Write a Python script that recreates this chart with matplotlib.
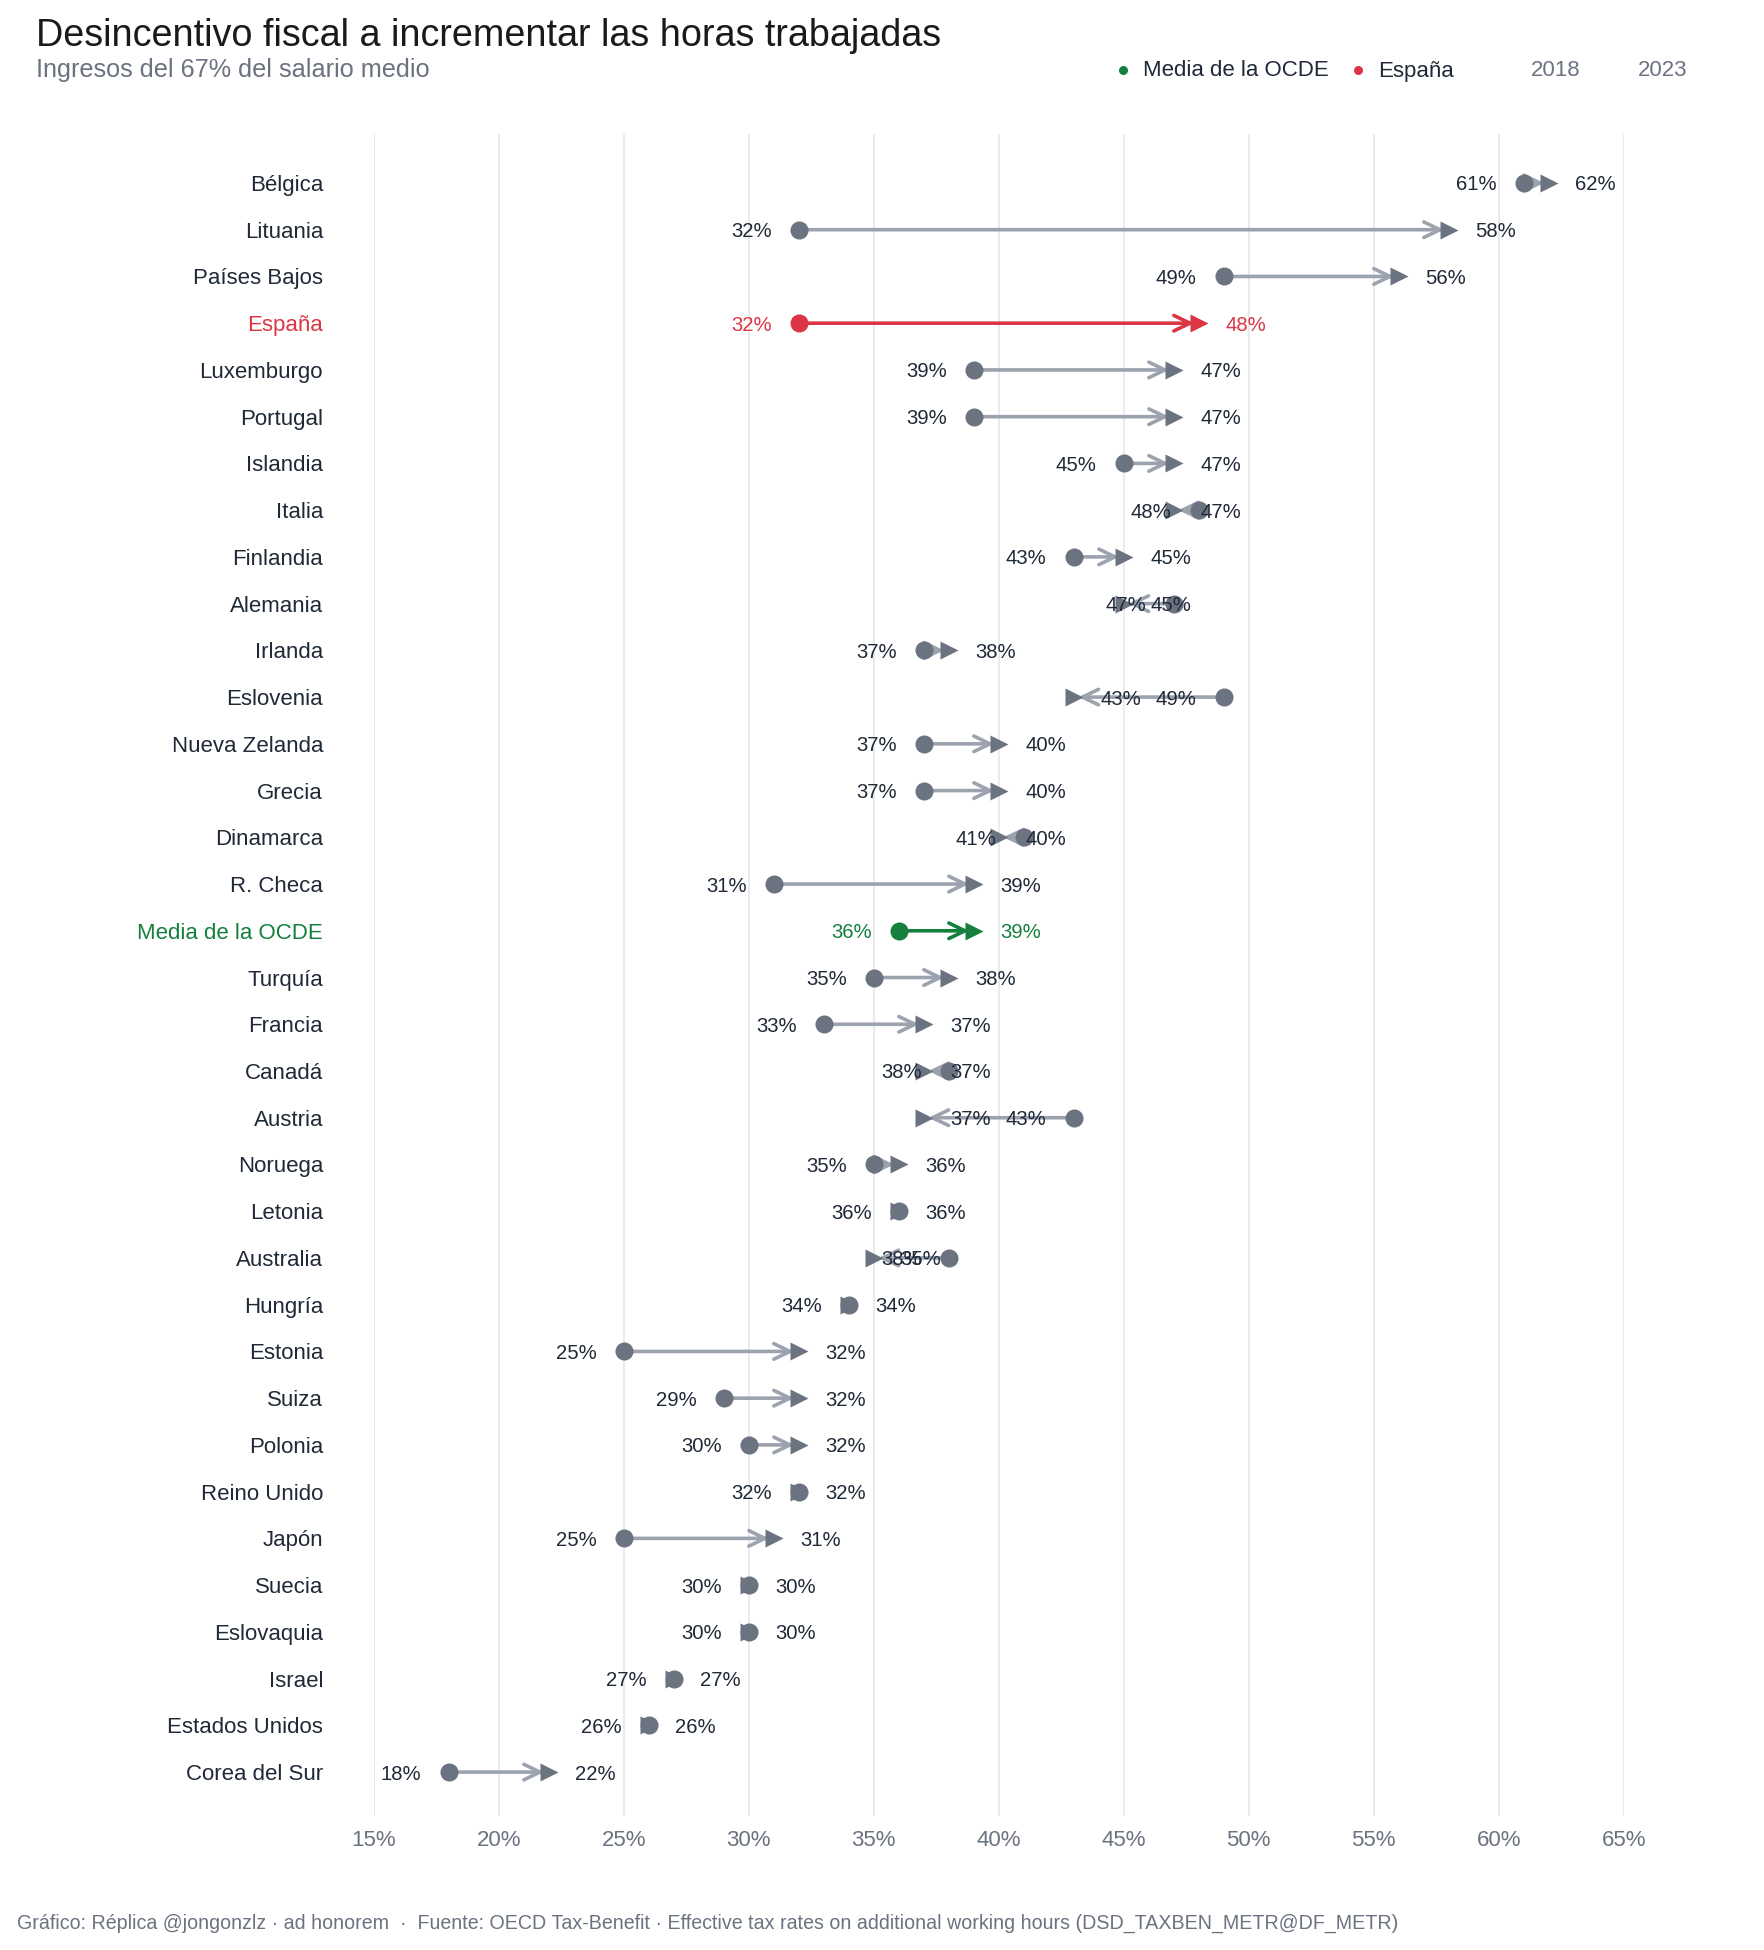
import matplotlib
matplotlib.use("Agg")
import matplotlib.pyplot as plt
from matplotlib.lines import Line2D

# ---------------- data ----------------
countries = [
    "Bélgica", "Lituania", "Países Bajos", "España", "Luxemburgo", "Portugal",
    "Islandia", "Italia", "Finlandia", "Alemania", "Irlanda", "Eslovenia",
    "Nueva Zelanda", "Grecia", "Dinamarca", "R. Checa", "Media de la OCDE",
    "Turquía", "Francia", "Canadá", "Austria", "Noruega", "Letonia",
    "Australia", "Hungría", "Estonia", "Suiza", "Polonia", "Reino Unido",
    "Japón", "Suecia", "Eslovaquia", "Israel", "Estados Unidos", "Corea del Sur",
]
v2018 = [61, 32, 49, 32, 39, 39, 45, 48, 43, 47, 37, 49, 37, 37, 41, 31, 36,
         35, 33, 38, 43, 35, 36, 38, 34, 25, 29, 30, 32, 25, 30, 30, 27, 26, 18]
v2023 = [62, 58, 56, 48, 47, 47, 47, 47, 45, 45, 38, 43, 40, 40, 40, 39, 39,
         38, 37, 37, 37, 36, 36, 35, 34, 32, 32, 32, 32, 31, 30, 30, 27, 26, 22]
xticks = [15, 20, 25, 30, 35, 40, 45, 50, 55, 60, 65]
xtick_labels = [f"{t}%" for t in xticks]
highlight = {"España": "#dc3545", "Media de la OCDE": "#15803d"}
legend_items = ["Media de la OCDE", "España"]
legend_years = ["2018", "2023"]

TITLE = "Desincentivo fiscal a incrementar las horas trabajadas"
SUBTITLE = "Ingresos del 67% del salario medio"
FOOTER = ("Gráfico: Réplica @jongonzlz · ad honorem  ·  Fuente: OECD Tax-Benefit · "
          "Effective tax rates on additional working hours (DSD_TAXBEN_METR@DF_METR)")

# ---------------- style ----------------
plt.rcParams["font.family"] = ["Liberation Sans", "DejaVu Sans"]
DOT = "#6b7280"
LINE = "#9ca3af"
TXT = "#1f2937"
GRAY = "#6b7280"
GRID = "#e5e7eb"

W, H = 1764, 1950
fig = plt.figure(figsize=(W / 100, H / 100), dpi=100)
fig.patch.set_facecolor("white")

ax_left, ax_right, ax_top, ax_bot = 373.7, 1623.7, 134, 1816
ax = fig.add_axes([ax_left / W, 1 - ax_bot / H, (ax_right - ax_left) / W, (ax_bot - ax_top) / H])
n = len(countries)
ax.set_xlim(15, 65)
ax.set_ylim(n - 1 + 0.94, -1.048)
for s in ax.spines.values():
    s.set_visible(False)
ax.set_xticks(xticks)
ax.set_xticklabels(xtick_labels)
ax.tick_params(axis="x", length=0, pad=10, labelsize=16, labelcolor=GRAY)
ax.set_yticks(range(n))
ax.set_yticklabels(countries)
ax.tick_params(axis="y", length=0, pad=36.5, labelsize=16)
for lbl, c in zip(ax.get_yticklabels(), countries):
    lbl.set_color(highlight.get(c, TXT))
ax.grid(axis="x", color=GRID, lw=1.2)
ax.grid(axis="y", visible=False)
ax.set_axisbelow(True)

for i, (c, a, b) in enumerate(zip(countries, v2018, v2023)):
    dcol = highlight.get(c, DOT)
    lcol = highlight.get(c, LINE)
    tcol = highlight.get(c, TXT)
    if a != b:
        ax.annotate("", xy=(b, i), xytext=(a, i),
                    arrowprops=dict(arrowstyle="->,head_length=0.58,head_width=0.28",
                                    color=lcol, lw=2.6, shrinkA=0, shrinkB=3.3,
                                    mutation_scale=20),
                    zorder=2)
    ax.plot([b], [i], marker=">", ms=13.5, color=dcol, mec="none", zorder=3, ls="none")
    ax.plot([a], [i], marker="o", ms=13, color=dcol, mec="none", zorder=4, ls="none")
    ax.annotate(f"{a:.0f}%", xy=(a, i), xytext=(-19.5, 0), textcoords="offset points",
                ha="right", va="center_baseline", fontsize=14.6, color=tcol, zorder=5)
    ax.annotate(f"{b:.0f}%", xy=(b, i), xytext=(19, 0), textcoords="offset points",
                ha="left", va="center_baseline", fontsize=14.6, color=tcol, zorder=5)

# ---------------- header ----------------
def fx(px):
    return px / W

def fy(py):
    return 1 - py / H

fig.text(fx(36), fy(46.5), TITLE, fontsize=27.2, color="#1a1a1a", va="baseline", ha="left")
fig.text(fx(36), fy(77.5), SUBTITLE, fontsize=18.2, color=GRAY, va="baseline", ha="left")

leg_dot_x = [1123, 1358]
leg_txt_x = [1143, 1378]
for name, dx, tx in zip(legend_items, leg_dot_x, leg_txt_x):
    fig.add_artist(Line2D([fx(dx)], [fy(70)], marker="o", ms=6.5, color=highlight[name],
                          mec="none", transform=fig.transFigure))
    fig.text(fx(tx), fy(76.5), name, fontsize=16, color=TXT, va="baseline", ha="left")
for yr, tx in zip(legend_years, [1531, 1638]):
    fig.text(fx(tx), fy(76.5), yr, fontsize=16, color=GRAY, va="baseline", ha="left")

fig.text(fx(17), fy(1928.5), FOOTER, fontsize=14.1, color=GRAY, va="baseline", ha="left")

fig.savefig("out.png", dpi=100, facecolor="white")
